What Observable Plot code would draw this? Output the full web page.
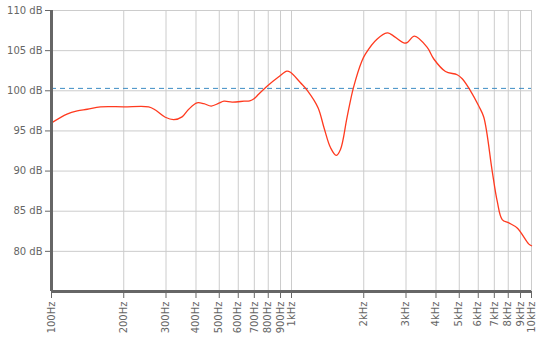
<!DOCTYPE html>
<html>
<head>
<meta charset="utf-8">
<script src="https://cdn.jsdelivr.net/npm/d3@7"></script>
<script src="https://cdn.jsdelivr.net/npm/@observablehq/plot@0.6"></script>
<style>
  html, body { margin: 0; padding: 0; background: #fff; }
  #chart svg { display: block; }
</style>
</head>
<body>
<div id="chart"></div>
<script>
const freqs = [100,116,128,141,160,200,254,271,298,323,350,373,404,431,463,498,523,566,634,670,698,731,793,885,957,990,1090,1167,1290,1366,1455,1535,1600,1704,1812,1967,2034,2276,2504,2580,2937,3032,3254,3677,3917,4382,4900,5144,5569,6030,6328,6859,7196,7550,8046,8718,9750,10000];
const levels = [96.0,97.1,97.5,97.7,98.0,98.0,98.0,97.6,96.7,96.4,96.75,97.7,98.5,98.4,98.1,98.45,98.7,98.6,98.7,98.75,99.0,99.6,100.6,101.75,102.45,102.3,101.0,100.0,97.9,95.4,92.9,91.96,92.7,96.7,100.4,103.75,104.6,106.45,107.2,107.1,105.96,106.0,106.8,105.4,103.96,102.4,102.0,101.5,100.0,98.1,96.7,90.0,86.25,83.96,83.54,82.9,80.9,80.7];
const xTicks = [100,200,300,400,500,600,700,800,900,1000,2000,3000,4000,5000,6000,7000,8000,9000,10000];
const xTickLabels = ["100Hz","200Hz","300Hz","400Hz","500Hz","600Hz","700Hz","800Hz","900Hz","1kHz","2kHz","3kHz","4kHz","5kHz","6kHz","7kHz","8kHz","9kHz","10kHz"];
const yTicks = [80,85,90,95,100,105,110];
const referenceLevel = 100.3;

const data = freqs.map((f, i) => ({f, db: levels[i]}));
const yMin = 75;

const chart = Plot.plot({
  width: 541,
  height: 340,
  marginLeft: 51,
  marginRight: 10,
  marginTop: 10,
  marginBottom: 49,
  style: {fontFamily: "DejaVu Sans", fontSize: "10px", color: "#666", background: "#fff"},
  x: {type: "log", domain: [100, 10000], axis: null},
  y: {domain: [yMin, 110]},
  marks: [
    Plot.gridX(xTicks, {stroke: "#ccc", strokeOpacity: 1, strokeWidth: 1}),
    Plot.gridY(yTicks, {stroke: "#ccc", strokeOpacity: 1, strokeWidth: 1, x1: 100, x2: 10000}),
    Plot.ruleY([referenceLevel], {stroke: "#3c8cc4", strokeWidth: 1, strokeDasharray: "5,4"}),
    Plot.line(data, {x: "f", y: "db", stroke: "#ff3a1f", strokeWidth: 1.3, curve: "catmull-rom"}),
    Plot.ruleX(xTicks, {x: d => d, y1: yMin, y2: yMin, insetBottom: -7, stroke: "#666", strokeWidth: 1}),
    Plot.text(xTicks, {x: d => d, y: yMin, text: (d, i) => xTickLabels[i], rotate: -90, textAnchor: "end", dy: 10, fill: "#666", fontSize: 10}),
    Plot.axisY(yTicks, {tickFormat: d => d + " dB", tickSize: 6, tickPadding: 3, stroke: "#666", fill: "#666", label: null}),
    Plot.ruleX([100], {stroke: "#666", strokeWidth: 3}),
    Plot.ruleY([yMin], {stroke: "#666", strokeWidth: 3, x1: 100, x2: 10000})
  ]
});
document.getElementById("chart").appendChild(chart);
</script>
</body>
</html>
